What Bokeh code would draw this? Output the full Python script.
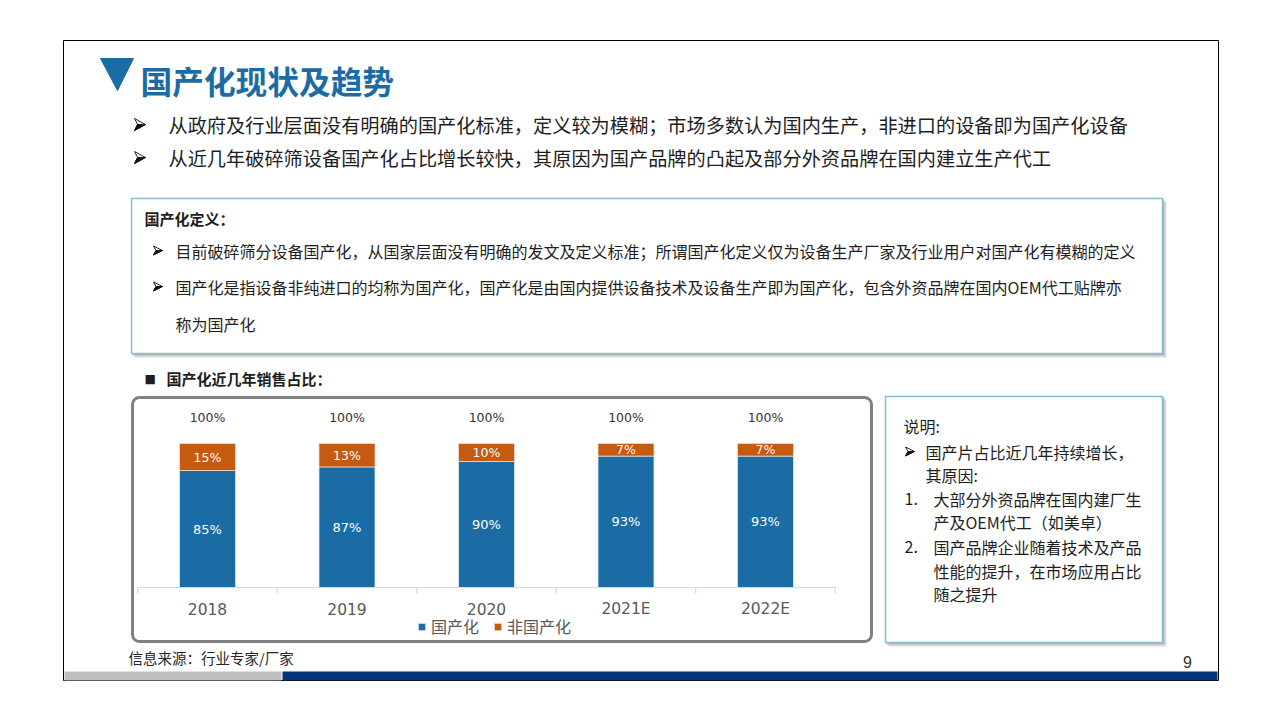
from bokeh.plotting import figure
from bokeh.models import Range1d, ColumnDataSource, BoxAnnotation, Legend, LegendItem
from bokeh.core.properties import value
from bokeh.embed import file_html
from bokeh.resources import INLINE

# ---------------- data ----------------
years = ["2018", "2019", "2020", "2021E", "2022E"]
domestic = [85, 87, 90, 93, 93]
foreign = [15, 13, 10, 7, 7]
totals = [100, 100, 100, 100, 100]
axis_min = 20
series_names = ["国产化", "非国产化"]

title_text = "国产化现状及趋势"
top_bullets = [
    "从政府及行业层面没有明确的国产化标准，定义较为模糊；市场多数认为国内生产，非进口的设备即为国产化设备",
    "从近几年破碎筛设备国产化占比增长较快，其原因为国产品牌的凸起及部分外资品牌在国内建立生产代工",
]
def_title = "国产化定义："
def_lines = [
    "目前破碎筛分设备国产化，从国家层面没有明确的发文及定义标准；所谓国产化定义仅为设备生产厂家及行业用户对国产化有模糊的定义",
    "国产化是指设备非纯进口的均称为国产化，国产化是由国内提供设备技术及设备生产即为国产化，包含外资品牌在国内OEM代工贴牌亦",
    "称为国产化",
]
chart_title = "国产化近几年销售占比："
note_title = "说明:"
note_lines = [
    "国产片占比近几年持续增长，",
    "其原因:",
    "大部分外资品牌在国内建厂生",
    "产及OEM代工（如美卓）",
    "国产品牌企业随着技术及产品",
    "性能的提升，在市场应用占比",
    "随之提升",
]
source_text = "信息来源：行业专家/厂家"
page_no = "9"

# ---------------- layout helpers ----------------
W, H = 1264, 704
OX, OY = 0, 0
CJK = "Noto Sans CJK SC"
LAT = "DejaVu Sans"
BLUE = "#1B6CA4"
ORANGE = "#C55A11"
TXT = "#1E1E1E"


def Y(py):
    return OY + H - py


p = figure(width=W, height=H, x_range=Range1d(OX, OX + W), y_range=Range1d(0, H),
           output_backend="svg", toolbar_location=None, min_border=0,
           x_axis_type=None, y_axis_type=None)
p.grid.visible = False
p.outline_line_color = None
p.background_fill_color = "white"
p.border_fill_color = "white"


def txt(x, y, s, size, color=TXT, bold=False, font=CJK, align="left", baseline="middle"):
    p.text(x=[x], y=[Y(y)], text=[s], text_font=value(font),
           text_font_size=value(f"{size}px"), text_color=color,
           text_font_style="bold" if bold else "normal",
           text_align=align, text_baseline=baseline)


def box(l, t, r, b, fill="white", line=None, lw=1, alpha=1.0):
    p.quad(left=[l], right=[r], top=[Y(t)], bottom=[Y(b)], fill_color=fill,
           fill_alpha=alpha, line_color=line, line_width=lw)


def arrow(x0, yc, w, h):
    hh = h / 2.0
    p.patch(x=[x0, x0 + w, x0, x0 + w * 0.28], y=[Y(yc - hh), Y(yc), Y(yc + hh), Y(yc)],
            fill_color="white", line_color="#111111", line_width=0.9)
    p.patch(x=[x0 + w * 0.28, x0 + w, x0], y=[Y(yc), Y(yc), Y(yc + hh)],
            fill_color="#111111", line_color="#111111", line_width=0.9)


# slide frame and footer bar
box(63, 40, 1218, 680, fill=None, line="black", lw=1)
box(64, 671, 281, 680, fill="#BFBFBF")
box(282, 671, 1217, 680, fill="#00337A")

# title
p.patch(x=[100, 133, 117], y=[Y(58), Y(58), Y(90)], fill_color=BLUE, line_color=BLUE)
txt(140, 79, title_text, 31.7, color=BLUE, bold=True)

# top bullets
for i, s in enumerate(top_bullets):
    yy = 124 + 33 * i
    arrow(134, yy, 11, 12)
    txt(168, yy, s, 19.2)

# definition box with shadow
box(134, 201, 1166, 357, fill="#9A9A9A", alpha=0.35)
box(132, 199, 1164, 355, fill="#8A8A8A", alpha=0.5)
box(131, 198, 1162, 353, fill="white", line="#86BFD0", lw=1.5)
txt(144, 218, def_title, 15, bold=True)
arrow(153, 250, 9, 9)
txt(175, 250, def_lines[0], 16)
arrow(153, 286, 9, 9)
txt(175, 286, def_lines[1], 16)
txt(175, 323, def_lines[2], 16)

# chart subtitle
txt(144, 378, "■", 12, font=LAT)
txt(166, 378, chart_title, 15, bold=True)

# chart box
p.add_layout(BoxAnnotation(left=132, right=871, top=Y(397), bottom=Y(641),
                           fill_color="white", fill_alpha=0.0, line_color="#808080",
                           line_alpha=1.0, line_width=3, border_radius=7))

# ---------------- bar chart through extra ranges ----------------
bar_x0, step = 207.0, 139.5
base_py, top_py = 587.0, 443.0
ppu = (base_py - top_py) / (100 - axis_min)
p.extra_x_ranges = {"cat": Range1d((OX - bar_x0) / step, (OX + W - bar_x0) / step)}
p.extra_y_ranges = {"pct": Range1d(axis_min - (OY + H - base_py) / ppu,
                                   axis_min + (base_py - OY) / ppu)}

idx = list(range(len(years)))
src = ColumnDataSource(dict(
    x=idx, years=years, dom=domestic, fgn=foreign, tot=totals,
    base=[axis_min] * len(years),
    top_f=[d + f for d, f in zip(domestic, foreign)],
    dom_mid=[(axis_min + d) / 2 for d in domestic],
    fgn_mid=[d + f / 2 for d, f in zip(domestic, foreign)],
    dom_lbl=[f"{v}%" for v in domestic],
    fgn_lbl=[f"{v}%" for v in foreign],
    tot_lbl=[f"{v}%" for v in totals],
    lbl_y=[Y(608)] * len(years),
))
bw = 56 / step
r_dom = p.vbar(x="x", bottom="base", top="dom", width=bw, source=src, fill_color=BLUE,
               line_color="#DCE8F2", line_width=0.8, x_range_name="cat", y_range_name="pct")
r_fgn = p.vbar(x="x", bottom="dom", top="top_f", width=bw, source=src, fill_color=ORANGE,
               line_color="#F4D9C6", line_width=0.8, x_range_name="cat", y_range_name="pct")

p.text(x="x", y="dom_mid", text="dom_lbl", source=src, x_range_name="cat", y_range_name="pct",
       text_font=value(LAT), text_font_size=value("13px"), text_color="white",
       text_align="center", text_baseline="middle")
p.text(x="x", y="fgn_mid", text="fgn_lbl", source=src, x_range_name="cat", y_range_name="pct",
       text_font=value(LAT), text_font_size=value("12.5px"), text_color="white",
       text_align="center", text_baseline="middle")
p.text(x="x", y="tot", text="tot_lbl", source=src, x_range_name="cat", y_range_name="pct",
       text_font=value(LAT), text_font_size=value("12.5px"), text_color="#333333",
       text_align="center", text_baseline="middle", y_offset=-26)

# category axis line, ticks and labels
edges = [i - 0.5 for i in range(len(years) + 1)]
p.segment(x0=[edges[0]], x1=[edges[-1]], y0=[Y(base_py)], y1=[Y(base_py)],
          x_range_name="cat", line_color="#D9D9D9", line_width=1.2)
p.segment(x0=edges, x1=edges, y0=[Y(base_py)] * len(edges), y1=[Y(base_py + 6)] * len(edges),
          x_range_name="cat", line_color="#D9D9D9", line_width=1.2)
p.text(x="x", y="lbl_y", text="years", source=src,
       x_range_name="cat", text_font=value(LAT), text_font_size=value("15.5px"),
       text_color="#595959", text_align="center", text_baseline="middle")

legend = Legend(items=[LegendItem(label=series_names[0], renderers=[r_dom]),
                       LegendItem(label=series_names[1], renderers=[r_fgn])],
                orientation="horizontal", location=(417, 66),
                glyph_width=9, glyph_height=9, label_standoff=5, spacing=14,
                padding=0, margin=0, border_line_color=None, background_fill_alpha=0,
                label_text_font=CJK, label_text_font_size="16px", label_text_color="#595959",
                label_height=18)
p.add_layout(legend, "center")

# note box
box(888, 399, 1166, 646, fill="#9A9A9A", alpha=0.35)
box(886, 397, 1164, 644, fill="#8A8A8A", alpha=0.5)
box(885, 396, 1162, 642, fill="white", line="#86BFD0", lw=1.5)
txt(903, 425, note_title, 16)
arrow(905, 451, 9, 9)
txt(925, 451, note_lines[0], 16)
txt(925, 474, note_lines[1], 16)
txt(904, 498, "1.", 16)
txt(933, 498, note_lines[2], 16)
txt(933, 521, note_lines[3], 16)
txt(904, 546, "2.", 16)
txt(933, 546, note_lines[4], 16)
txt(933, 570, note_lines[5], 16)
txt(933, 593, note_lines[6], 16)

# footer
txt(128, 657, source_text, 14.5, color="#262626")
txt(1187, 661, page_no, 16, color="#333333", font="Liberation Sans", align="center")

open("out.html", "w").write(file_html(p, INLINE))
